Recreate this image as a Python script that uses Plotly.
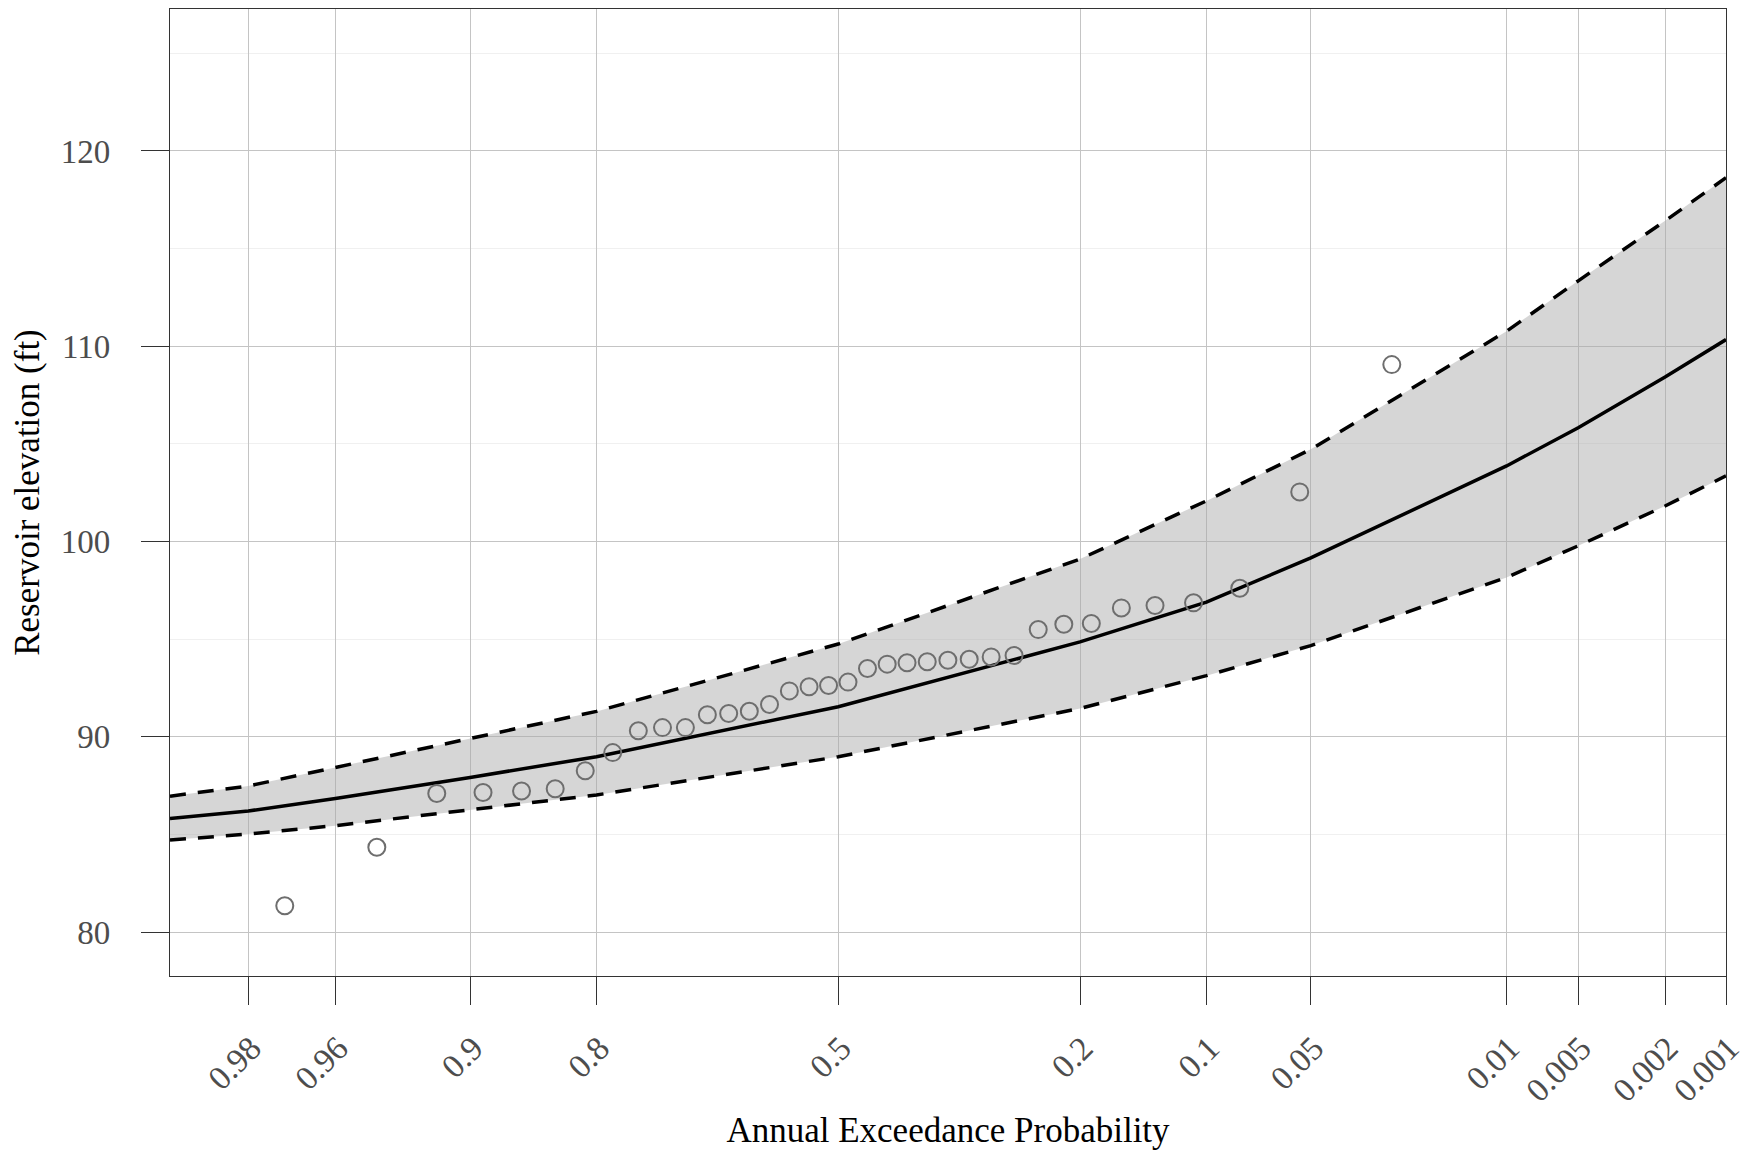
import plotly.graph_objects as go
from statistics import NormalDist

# ---------------- data ----------------
# Frequency-curve ordinates (annual exceedance probability)
curve_aep = [0.99, 0.98, 0.96, 0.9, 0.8, 0.5, 0.2, 0.1, 0.05, 0.01, 0.005, 0.002, 0.001]
curve_median = [85.82, 86.20, 86.84, 87.92, 88.98, 91.54, 94.86, 96.90, 99.16, 103.87, 105.83, 108.42, 110.34]
curve_upper = [86.96, 87.48, 88.43, 89.91, 91.30, 94.75, 99.10, 102.08, 104.72, 110.77, 113.35, 116.42, 118.63]
curve_lower = [84.71, 85.02, 85.45, 86.25, 87.02, 88.98, 91.45, 93.13, 94.67, 98.16, 99.78, 101.82, 103.36]

# Observed annual maxima with plotting positions
obs_aep = [0.0270, 0.0541, 0.0811, 0.1081, 0.1351, 0.1622, 0.1892, 0.2162, 0.2432,
           0.2703, 0.2973, 0.3243, 0.3514, 0.3784, 0.4054, 0.4324, 0.4595, 0.4865,
           0.5135, 0.5405, 0.5676, 0.5946, 0.6216, 0.6486, 0.6757, 0.7027, 0.7297,
           0.7568, 0.7838, 0.8108, 0.8378, 0.8649, 0.8919, 0.9189, 0.9459, 0.9730]
obs_elev = [109.06, 102.54, 97.61, 96.86, 96.72, 96.60, 95.80, 95.76, 95.49,
            94.16, 94.09, 93.97, 93.92, 93.84, 93.79, 93.72, 93.50, 92.80,
            92.63, 92.56, 92.35, 91.65, 91.31, 91.19, 91.13, 90.47, 90.47,
            90.31, 89.19, 88.26, 87.34, 87.22, 87.15, 87.10, 84.34, 81.35]

x_tick_aep = [0.98, 0.96, 0.9, 0.8, 0.5, 0.2, 0.1, 0.05, 0.01, 0.005, 0.002, 0.001]
x_tick_text = ["0.98", "0.96", "0.9", "0.8", "0.5", "0.2", "0.1", "0.05", "0.01", "0.005", "0.002", "0.001"]
x_range_aep = [0.99, 0.001]
y_ticks = [80, 90, 100, 110, 120]
y_range = [77.75, 127.27]

# ---------------- normal probability scale ----------------
_nd = NormalDist()


def zscale(ps):
    return [_nd.inv_cdf(1.0 - p) for p in ps]


cx = zscale(curve_aep)
ox = zscale(obs_aep)

SERIF = "Liberation Serif, Times New Roman, serif"

fig = go.Figure()

# ribbon
fig.add_trace(go.Scatter(x=cx, y=curve_lower, mode="lines", line=dict(width=0, color="rgba(0,0,0,0)"),
                         hoverinfo="skip", showlegend=False))
fig.add_trace(go.Scatter(x=cx, y=curve_upper, mode="lines", line=dict(width=0, color="rgba(0,0,0,0)"),
                         fill="tonexty", fillcolor="rgba(168,168,168,0.47)", hoverinfo="skip", showlegend=False))
# confidence limits
fig.add_trace(go.Scatter(x=cx, y=curve_upper, mode="lines",
                         line=dict(color="black", width=3.5, dash="16px,12px"), showlegend=False))
fig.add_trace(go.Scatter(x=cx, y=curve_lower, mode="lines",
                         line=dict(color="black", width=3.5, dash="16px,12px"), showlegend=False))
# median curve
fig.add_trace(go.Scatter(x=cx, y=curve_median, mode="lines",
                         line=dict(color="black", width=3.5), showlegend=False))
# observations
fig.add_trace(go.Scatter(x=ox, y=obs_elev, mode="markers",
                         marker=dict(symbol="circle-open", size=17, color="#6e6e6e",
                                     line=dict(width=2, color="#6e6e6e")),
                         showlegend=False))

# page body has an 8px margin, so the figure is sized to sit inside it
fig.update_layout(
    width=1738, height=1142,
    margin=dict(l=162, r=20, t=1, b=174, autoexpand=False),
    paper_bgcolor="white", plot_bgcolor="white",
    font=dict(family=SERIF, color="black"),
)

fig.update_xaxes(
    range=zscale(x_range_aep),
    tickmode="array", tickvals=zscale(x_tick_aep), ticktext=x_tick_text,
    tickangle=-45,
    tickfont=dict(family=SERIF, size=33.5, color="#4d4d4d"),
    ticks="outside", ticklen=28, tickwidth=1.2, tickcolor="#333333",
    ticklabelstandoff=10, ticklabelshift=3, ticklabeloverflow="allow",
    showgrid=True, gridcolor="#c4c4c4", gridwidth=1.3,
    showline=True, linecolor="#333333", linewidth=1.2, mirror=True,
    zeroline=False,
    title=dict(text="Annual Exceedance Probability", font=dict(family=SERIF, size=35, color="black"),
               standoff=40),
)
fig.update_yaxes(
    range=y_range,
    tickmode="array", tickvals=y_ticks,
    tickfont=dict(family=SERIF, size=33, color="#4d4d4d"),
    ticks="outside", ticklen=28, tickwidth=1.2, tickcolor="#333333",
    ticklabelstandoff=24,
    showgrid=True, gridcolor="#c4c4c4", gridwidth=1.3,
    minor=dict(tick0=75, dtick=5, showgrid=True, gridcolor="#f0f0f0", gridwidth=1.3, ticks=""),
    showline=True, linecolor="#333333", linewidth=1.2, mirror=True,
    zeroline=False,
    title=dict(text="Reservoir elevation (ft)", font=dict(family=SERIF, size=35, color="black"),
               standoff=12),
)

fig.write_html("out.html")
